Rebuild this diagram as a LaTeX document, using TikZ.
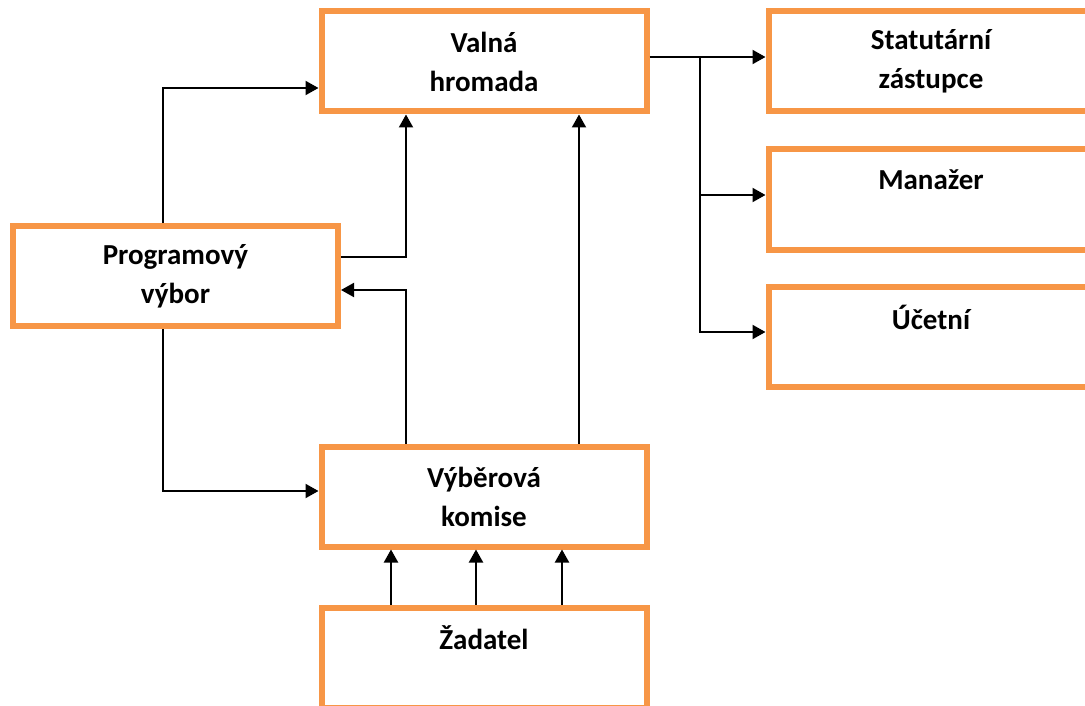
\documentclass[tikz,border=0pt]{standalone}
\usepackage{fontspec}
\setmainfont{Carlito}
\usetikzlibrary{arrows.meta}
\definecolor{boxorange}{HTML}{F79646}

\tikzset{
    orgbox/.style={draw=boxorange, line width=6pt, rectangle, minimum width=325pt,
        minimum height=100pt, inner sep=0pt, align=center,
        font=\fontsize{29}{39}\selectfont\bfseries},
    link/.style={line width=2pt, black},
    arr/.style={link, -{Triangle[length=13pt,width=14pt]}}
}

\begin{document}
\begin{tikzpicture}[x=1pt, y=-1pt]
    \useasboundingbox (0,0) rectangle (1085,706);
    \clip (0,0) rectangle (1085,706);
    \fill[white] (0,0) rectangle (1085,706);

    \node[orgbox] (Valna) at (484,61.5) {Valná\\hromada};
    \node[orgbox] (Statut) at (931,61.5) {Statutární\\zástupce};
    \node[orgbox] (Manazer) at (931,199.5) {Manažer\\~};
    \node[orgbox] (Ucetni) at (931,336.5) {Účetní\\~};
    \node[orgbox] (Program) at (175.5,276) {Programový\\výbor};
    \node[orgbox] (Vyber) at (484,496.5) {Výběrová\\komise};
    \node[orgbox] (Zadatel) at (484,657.5) {Žadatel\\~};

    \coordinate (split) at (700,57);
    \draw[link] ([yshift=4.5pt]Valna.east) -- (split);
    \draw[arr] (split) -- ([yshift=4.5pt]Statut.west);
    \draw[arr] (split) |- ([yshift=4.5pt]Manazer.west);
    \draw[arr] (split) |- ([yshift=4.5pt]Ucetni.west);

    \draw[arr] ([xshift=-12.5pt]Program.north) |- ([yshift=-26.5pt]Valna.west);
    \draw[arr] ([yshift=19pt]Program.east) -| ([xshift=-78pt]Valna.south);
    \draw[arr] ([xshift=-78pt]Vyber.north) |- ([yshift=-14pt]Program.east);
    \draw[arr] ([xshift=95pt]Vyber.north) -- ([xshift=95pt]Valna.south);
    \draw[arr] ([xshift=-12.5pt]Program.south) |- ([yshift=5.5pt]Vyber.west);

    \foreach \dx in {-93,-8,78}
        \draw[arr] ([xshift=\dx pt]Zadatel.north) -- ([xshift=\dx pt]Vyber.south);
\end{tikzpicture}
\end{document}
